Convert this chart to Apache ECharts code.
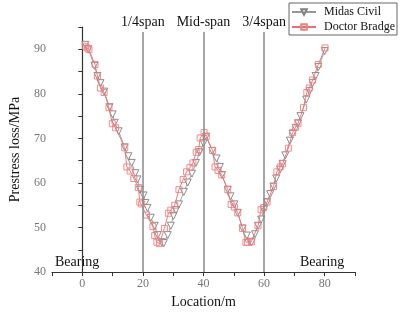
<!DOCTYPE html>
<html>
<head>
<meta charset="utf-8">
<script src="https://cdn.jsdelivr.net/npm/echarts@6/dist/echarts.min.js"></script>
<style>html,body{margin:0;padding:0;background:#fff}#c{width:401px;height:314px}</style>
</head>
<body>
<div id="c"></div>
<script>
var midasX = [1, 2, 4, 5, 6, 7.2, 9, 10, 10.7, 12, 14, 15.2, 16.3, 17.5, 18.2, 19, 20.2, 20.8, 21.5, 22.6, 23.9, 24.9, 26.2, 26.9, 28.2, 29.2, 30.1, 30.9, 31.9, 33.5, 34.8, 36.2, 37.5, 38.7, 40, 40.9, 42.9, 44.3, 45.4, 46.1, 48, 48.9, 50.2, 51.3, 52.9, 54.3, 55.4, 55.9, 57, 58, 59, 59.9, 61, 62, 63.1, 64, 65.3, 66.1, 67, 68.5, 69.4, 70.4, 71.2, 72, 73.9, 75, 76, 77, 77.9, 80];
var midasY = [91.0, 90.0, 86.3, 84.0, 82.4, 80.5, 77.0, 75.4, 73.5, 71.6, 68.0, 66.0, 64.5, 62.2, 60.8, 58.5, 57.2, 55.5, 54.4, 52.2, 50.4, 48.3, 46.7, 46.5, 48.3, 50.4, 52.6, 53.9, 55.2, 58.0, 60.1, 62.1, 64.5, 66.9, 68.9, 70.4, 67.2, 65.5, 63.6, 61.8, 58.5, 57.0, 55.2, 53.3, 49.8, 48.2, 46.8, 46.7, 48.5, 50.4, 51.8, 54.0, 55.7, 57.5, 59.2, 61.0, 63.0, 64.3, 66.2, 69.5, 71.0, 72.3, 73.4, 75.0, 78.7, 80.6, 82.4, 84.0, 86.0, 89.6];
var bridgeX = [1, 1.6, 2.2, 4.2, 5, 6, 7.2, 8.8, 9.9, 11, 14, 14.7, 15.8, 17, 18.5, 19, 19.6, 21.2, 23.3, 23.9, 24.6, 25.5, 27.1, 28.4, 29.2, 30.5, 31.9, 33.3, 34.4, 35.5, 36.5, 37.6, 38.4, 38.9, 40.2, 40.9, 43, 43.8, 44.8, 46, 48, 49.1, 50.2, 51.3, 52.9, 54, 54.5, 55.8, 58, 59, 59.9, 61, 63.1, 64.2, 65.3, 66.1, 68, 69.4, 70.4, 71.2, 73, 74.1, 74.9, 76, 77.9, 80.1];
var bridgeY = [90.7, 90.3, 89.9, 86.6, 84.0, 81.3, 80.3, 76.9, 73.3, 72.4, 67.9, 63.6, 62.7, 61.0, 59.0, 55.7, 55.3, 52.8, 50.2, 48.2, 46.7, 46.4, 49.8, 53.2, 53.9, 55.0, 58.5, 60.8, 62.5, 63.5, 64.5, 66.9, 67.5, 70.1, 71.3, 70.4, 67.3, 63.6, 62.8, 61.8, 58.5, 55.2, 54.6, 53.3, 49.8, 46.7, 46.7, 46.8, 50.4, 54.0, 54.5, 55.7, 59.2, 62.5, 63.6, 64.3, 67.8, 71.3, 72.5, 73.4, 76.9, 80.3, 81.3, 83.1, 86.6, 90.3];
var spanX = [20, 40, 60];
var spanLabels = ['1/4span', 'Mid-span', '3/4span'];
var spanTop = 93.9;
var seriesNames = ['Midas Civil', 'Doctor Bradge'];
var bearingText = 'Bearing';

function pairs(xs, ys) { return xs.map(function (x, i) { return [x, ys[i]]; }); }

var FONT = 'Liberation Serif';
var chart = echarts.init(document.getElementById('c'));
chart.setOption({
  animation: false,
  textStyle: { fontFamily: FONT },
  grid: { left: 45, right: 46, top: 27, bottom: 37 },
  legend: {
    orient: 'vertical', right: 4, top: 3,
    borderColor: '#666', borderWidth: 1, padding: [3, 2, 2, 2],
    itemGap: 3, itemWidth: 24, itemHeight: 7,
    textStyle: { fontFamily: FONT, fontSize: 12, color: '#111', padding: [0, 0, 0, 3] },
    data: seriesNames
  },
  xAxis: {
    type: 'value', min: -10, max: 90, interval: 10,
    name: 'Location/m', nameLocation: 'middle', nameGap: 22,
    nameTextStyle: { fontFamily: FONT, fontSize: 14, color: '#111' },
    axisLine: { lineStyle: { color: '#333', width: 1.2 } },
    axisTick: { length: 4, lineStyle: { color: '#333' } },
    axisLabel: { fontFamily: FONT, fontSize: 12, color: '#777', margin: 6,
      formatter: function (v) { return v % 20 === 0 ? String(v) : ''; } },
    splitLine: { show: false }
  },
  yAxis: {
    type: 'value', min: 40, max: 95, interval: 5,
    name: 'Prestress loss/MPa', nameLocation: 'middle', nameGap: 30,
    nameTextStyle: { fontFamily: FONT, fontSize: 14, color: '#111' },
    axisLine: { show: true, lineStyle: { color: '#333', width: 1.2 } },
    axisTick: { show: true, length: 4, lineStyle: { color: '#333' } },
    axisLabel: { fontFamily: FONT, fontSize: 12, color: '#777', margin: 6,
      formatter: function (v) { return v % 10 === 0 ? String(v) : ''; } },
    splitLine: { show: false }
  },
  graphic: [
    { type: 'text', left: 55, top: 255, style: { text: bearingText, font: '14px "Liberation Serif"', fill: '#111' } },
    { type: 'text', left: 300, top: 255, style: { text: bearingText, font: '14px "Liberation Serif"', fill: '#111' } }
  ],
  series: [
    {
      name: seriesNames[0], type: 'line', data: pairs(midasX, midasY),
      symbol: 'triangle', symbolRotate: 180, symbolSize: 7,
      itemStyle: { color: '#fff', borderColor: '#808080', borderWidth: 0.9 },
      lineStyle: { color: '#999', width: 0.9 },
      z: 2,
      markLine: {
        silent: true, symbol: 'none',
        lineStyle: { color: '#888', width: 1.5, type: 'solid' },
        label: { position: 'end', fontFamily: FONT, fontSize: 14, color: '#111', distance: 3,
          formatter: function (p) { return p.data.name; } },
        data: spanX.map(function (x, i) { return [{ coord: [x, 40], name: spanLabels[i] }, { coord: [x, spanTop] }]; })
      }
    },
    {
      name: seriesNames[1], type: 'line', data: pairs(bridgeX, bridgeY),
      symbol: 'rect', symbolSize: 6,
      itemStyle: { color: 'rgba(255,255,255,0)', borderColor: '#f08080', borderWidth: 0.9 },
      lineStyle: { color: '#e57070', width: 0.9 },
      z: 3
    }
  ]
});
</script>
</body>
</html>
